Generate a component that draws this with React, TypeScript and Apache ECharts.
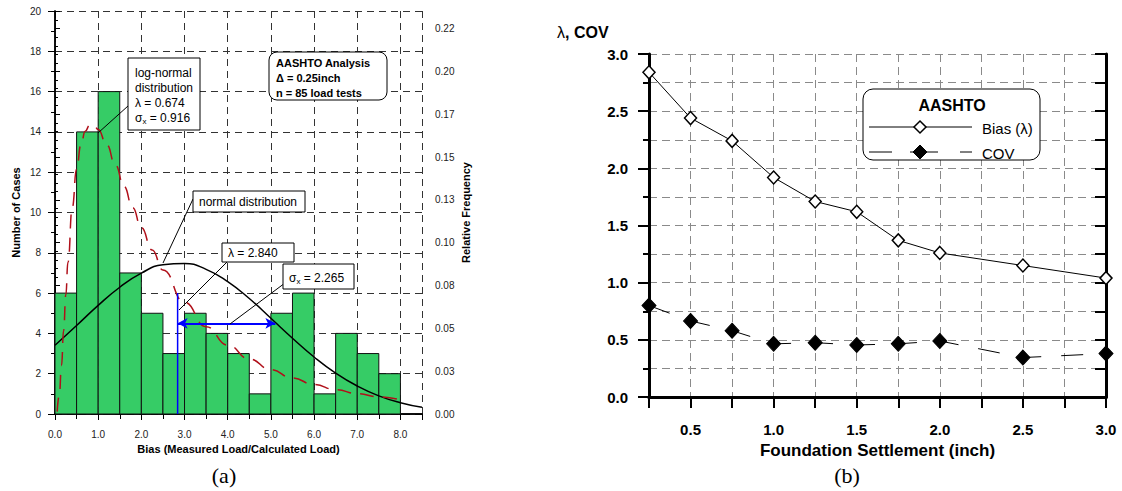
import React, { useEffect, useRef } from 'react';
import * as echarts from 'echarts';

const FONT = '"Liberation Sans", Arial, Helvetica, sans-serif';

// ---- Panel (a): histogram of bias ----
const binStart = [0, 0.5, 1, 1.5, 2, 2.5, 3, 3.5, 4, 4.5, 5, 5.5, 6, 6.5, 7, 7.5];
const binWidth = 0.5;
const caseCounts = [6, 14, 16, 7, 5, 3, 5, 4, 3, 1, 5, 6, 1, 4, 3, 2];
const totalTests = 85;
const maxCount = 20;

const normalX = [0, 0.5, 1, 1.5, 2, 2.5, 3, 3.5, 4, 4.5, 5, 5.5, 6, 6.5, 7, 7.5, 8, 8.5];
const normalY = [3.41, 4.39, 5.39, 6.29, 6.99, 7.41, 7.47, 7.18, 6.57, 5.73, 4.75, 3.76, 2.83, 2.03, 1.39, 0.9, 0.56, 0.33];

const logNormalX = [0.05, 0.1, 0.15, 0.2, 0.25, 0.3, 0.4, 0.5, 0.6, 0.7, 0.8, 0.9, 1.0, 1.2, 1.4, 1.6, 1.8, 2.0, 2.25, 2.5, 3.0, 3.5, 4.0, 4.5, 5.0, 5.5, 6.0, 6.5, 7.0, 7.5, 8.0];
const logNormalY = [0.12, 0.94, 2.4, 4.14, 5.9, 7.53, 10.25, 12.15, 13.36, 14.03, 14.32, 14.33, 14.12, 13.35, 12.35, 11.29, 10.24, 9.25, 8.14, 7.15, 5.54, 4.33, 3.42, 2.73, 2.2, 1.79, 1.46, 1.21, 1.01, 0.85, 0.71];

const meanBias = 2.84;
const sdBias = 2.265;
const meanMarkerTop = 6;
const sdArrowLevel = 4.5;

const freqTickLabels = ['0.00', '0.03', '0.05', '0.08', '0.10', '0.13', '0.15', '0.17', '0.20', '0.22'];

// ---- Panel (b): bias & COV vs settlement ----
const settlement = [0.25, 0.5, 0.75, 1.0, 1.25, 1.5, 1.75, 2.0, 2.5, 3.0];
const biasLambda = [2.84, 2.44, 2.24, 1.92, 1.71, 1.62, 1.37, 1.26, 1.15, 1.04];
const covValues = [0.8, 0.665, 0.58, 0.465, 0.475, 0.455, 0.465, 0.49, 0.345, 0.38];

const GREEN = '#36CC66';
const RED = '#B0101A';
const BLUE = '#0000FF';

function buildOption(): any {
  const histData = binStart.map((s, i) => [s, s + binWidth, caseCounts[i]]);
  const normalData = normalX.map((x, i) => [x, normalY[i]]);
  const logData = logNormalX.map((x, i) => [x, logNormalY[i]]);
  const biasData = settlement.map((x, i) => [x, biasLambda[i]]);
  const covData = settlement.map((x, i) => [x, covValues[i]]);

  const gridDashA = { color: '#333', type: [7, 5], width: 1 };
  const gridDashB = { color: '#8a8a8a', type: [8, 5], width: 1 };
  const axisA = { show: true, lineStyle: { color: '#000', width: 1.5 } };
  const axisB = { show: true, lineStyle: { color: '#000', width: 3 } };

  return {
    animation: false,
    backgroundColor: '#fff',
    textStyle: { fontFamily: FONT },
    grid: [
      { left: 55, top: 11, width: 367, height: 403 },
      { left: 649, top: 54, width: 457, height: 343 },
    ],
    xAxis: [
      {
        type: 'value', gridIndex: 0, position: 'bottom', min: 0, max: 8.5, interval: 1,
        axisLine: axisA,
        axisTick: { show: true, length: 6, lineStyle: { color: '#000', width: 1 } },
        minorTick: { show: true, splitNumber: 2, length: 4, lineStyle: { color: '#000', width: 1 } },
        splitLine: { show: true, lineStyle: gridDashA },
        axisLabel: {
          fontSize: 10, color: '#222', margin: 15, fontFamily: FONT,
          formatter: (v: number) => (v > 8.01 ? '' : v.toFixed(1)),
        },
        name: 'Bias (Measured Load/Calculated Load)', nameLocation: 'middle', nameGap: 27,
        nameTextStyle: { fontSize: 11, fontWeight: 'bold', color: '#000', fontFamily: FONT },
      },
      {
        type: 'value', gridIndex: 0, position: 'top', min: 0, max: 8.5, interval: 0.5,
        axisLine: axisA,
        axisTick: { show: true, inside: true, length: 5, lineStyle: { color: '#000', width: 1 } },
        axisLabel: { show: false }, splitLine: { show: false },
      },
      {
        type: 'value', gridIndex: 1, position: 'bottom', min: 0.25, max: 3, interval: 0.25,
        axisLine: axisB,
        axisTick: { show: true, length: 10, lineStyle: { color: '#000', width: 2 } },
        splitLine: { show: true, lineStyle: gridDashB },
        axisLabel: {
          fontSize: 15, fontWeight: 'bold', color: '#000', margin: 25, fontFamily: FONT,
          formatter: (v: number) => {
            const r = Math.round(v * 2);
            return Math.abs(r / 2 - v) < 1e-6 ? v.toFixed(1) : '';
          },
        },
        name: 'Foundation Settlement (inch)', nameLocation: 'middle', nameGap: 42,
        nameTextStyle: { fontSize: 17, fontWeight: 'bold', color: '#000', fontFamily: FONT },
      },
      {
        type: 'value', gridIndex: 1, position: 'top', min: 0.25, max: 3, interval: 0.25,
        axisLine: axisB,
        axisTick: { show: true, inside: true, length: 11, lineStyle: { color: '#000', width: 2 } },
        axisLabel: { show: false }, splitLine: { show: false },
      },
    ],
    yAxis: [
      {
        type: 'value', gridIndex: 0, position: 'left', min: 0, max: maxCount, interval: 2,
        axisLine: axisA,
        axisTick: { show: true, length: 7, lineStyle: { color: '#000', width: 1 } },
        minorTick: { show: true, splitNumber: 2, length: 4, lineStyle: { color: '#000', width: 1 } },
        splitLine: { show: true, lineStyle: gridDashA },
        axisLabel: { fontSize: 10, color: '#222', margin: 14, fontFamily: FONT },
        name: 'Number of Cases', nameLocation: 'middle', nameGap: 34,
        nameTextStyle: { fontSize: 11, fontWeight: 'bold', color: '#000', fontFamily: FONT },
      },
      {
        type: 'value', gridIndex: 0, position: 'right', min: 0, max: maxCount / totalTests, interval: 0.025,
        axisLine: axisA,
        axisTick: { show: true, length: 5, lineStyle: { color: '#000', width: 1 } },
        minorTick: { show: true, splitNumber: 5, length: 3, lineStyle: { color: '#000', width: 1 } },
        splitLine: { show: false },
        axisLabel: {
          fontSize: 10, color: '#222', margin: 13, fontFamily: FONT,
          formatter: (v: number) => {
            const i = Math.round(v / 0.025);
            return Math.abs(i * 0.025 - v) < 1e-6 && freqTickLabels[i] ? freqTickLabels[i] : '';
          },
        },
        name: 'Relative Frequency', nameLocation: 'middle', nameGap: 38,
        nameTextStyle: { fontSize: 11, fontWeight: 'bold', color: '#000', fontFamily: FONT },
      },
      {
        type: 'value', gridIndex: 1, position: 'left', min: 0, max: 3, interval: 0.5,
        axisLine: axisB,
        axisTick: { show: true, length: 11, lineStyle: { color: '#000', width: 2 } },
        minorTick: { show: true, splitNumber: 2, length: 6, lineStyle: { color: '#000', width: 2 } },
        splitLine: { show: true, lineStyle: gridDashB },
        minorSplitLine: { show: true, lineStyle: gridDashB },
        axisLabel: {
          fontSize: 15, fontWeight: 'bold', color: '#000', margin: 21, fontFamily: FONT,
          formatter: (v: number) => v.toFixed(1),
        },
      },
      {
        type: 'value', gridIndex: 1, position: 'right', min: 0, max: 3, interval: 0.25,
        axisLine: axisB,
        axisTick: { show: true, inside: true, length: 11, lineStyle: { color: '#000', width: 2 } },
        axisLabel: { show: false }, splitLine: { show: false },
      },
    ],
    series: [
      {
        type: 'custom', xAxisIndex: 0, yAxisIndex: 0, data: histData,
        encode: { x: [0, 1], y: 2 },
        renderItem: (params: any, api: any) => {
          const p0 = api.coord([api.value(0), api.value(2)]);
          const p1 = api.coord([api.value(1), 0]);
          return {
            type: 'rect',
            shape: { x: p0[0], y: p0[1], width: p1[0] - p0[0], height: p1[1] - p0[1] },
            style: { fill: GREEN, stroke: '#111', lineWidth: 1 },
          };
        },
        z: 2,
      },
      {
        type: 'line', xAxisIndex: 0, yAxisIndex: 0, data: normalData, smooth: true,
        symbol: 'none', lineStyle: { color: '#000', width: 1.5 }, z: 4, clip: true,
      },
      {
        type: 'line', xAxisIndex: 0, yAxisIndex: 0, data: logData, smooth: true, smoothMonotone: 'x',
        symbol: 'none', lineStyle: { color: RED, width: 1.5, type: [14, 9] }, z: 4,
      },
      {
        type: 'line', xAxisIndex: 0, yAxisIndex: 0,
        data: [[meanBias, 0], [meanBias, meanMarkerTop]],
        symbol: 'none', lineStyle: { color: BLUE, width: 1.5 }, z: 5,
        markLine: {
          silent: true, symbol: ['arrow', 'arrow'], symbolSize: [8, 10],
          lineStyle: { color: BLUE, width: 2, type: 'solid' },
          label: { show: false },
          data: [[{ coord: [meanBias, sdArrowLevel] }, { coord: [meanBias + sdBias, sdArrowLevel] }]],
        },
      },
      {
        type: 'line', xAxisIndex: 2, yAxisIndex: 2, data: biasData, clip: false,
        symbol: 'diamond', symbolSize: [12, 13],
        itemStyle: { color: '#fff', borderColor: '#000', borderWidth: 1.5 },
        lineStyle: { color: '#000', width: 1 }, z: 5,
      },
      {
        type: 'line', xAxisIndex: 2, yAxisIndex: 2, data: covData, clip: false,
        symbol: 'diamond', symbolSize: [14, 15],
        itemStyle: { color: '#000', borderColor: '#000', borderWidth: 1 },
        lineStyle: { color: '#000', width: 1, type: [22, 20] }, z: 5,
      },
    ],
    graphic: [
      // log-normal box
      { type: 'line', shape: { x1: 128, y1: 106, x2: 98, y2: 133 }, style: { stroke: '#000', lineWidth: 1 }, z: 10 },
      { type: 'rect', shape: { x: 128, y: 58, width: 72, height: 72 }, style: { fill: '#fff', stroke: '#000', lineWidth: 1 }, z: 10 },
      {
        type: 'text', x: 135, y: 65, z: 11,
        style: {
          text: '{a|log-normal}\n{a|distribution}\n{a|λ = 0.674}\n{a|σ}{s|x}{a| = 0.916}',
          rich: {
            a: { fontSize: 12, fontFamily: FONT, fill: '#000', lineHeight: 15 },
            s: { fontSize: 8, fontFamily: FONT, fill: '#000', lineHeight: 15, verticalAlign: 'bottom' },
          },
        },
      },
      // normal distribution box
      { type: 'line', shape: { x1: 193, y1: 199, x2: 163, y2: 263 }, style: { stroke: '#000', lineWidth: 1 }, z: 10 },
      { type: 'rect', shape: { x: 193, y: 191, width: 112, height: 21 }, style: { fill: '#fff', stroke: '#000', lineWidth: 1 }, z: 10 },
      { type: 'text', x: 199, y: 202, z: 11, style: { text: 'normal distribution', fontSize: 12, fontFamily: FONT, fill: '#000', verticalAlign: 'middle' } },
      // lambda box
      { type: 'line', shape: { x1: 227, y1: 262, x2: 179, y2: 310 }, style: { stroke: '#000', lineWidth: 1 }, z: 10 },
      { type: 'rect', shape: { x: 222, y: 243, width: 72, height: 19 }, style: { fill: '#fff', stroke: '#000', lineWidth: 1 }, z: 10 },
      { type: 'text', x: 228, y: 253, z: 11, style: { text: 'λ = 2.840', fontSize: 12, fontFamily: FONT, fill: '#000', verticalAlign: 'middle' } },
      // sigma box
      { type: 'line', shape: { x1: 285, y1: 283, x2: 230, y2: 324 }, style: { stroke: '#000', lineWidth: 1 }, z: 10 },
      { type: 'rect', shape: { x: 283, y: 264, width: 71, height: 25 }, style: { fill: '#fff', stroke: '#000', lineWidth: 1 }, z: 10 },
      {
        type: 'text', x: 289, y: 270, z: 11,
        style: {
          text: '{a|σ}{s|x}{a| = 2.265}',
          rich: {
            a: { fontSize: 12, fontFamily: FONT, fill: '#000', lineHeight: 15 },
            s: { fontSize: 8, fontFamily: FONT, fill: '#000', lineHeight: 15, verticalAlign: 'bottom' },
          },
        },
      },
      // AASHTO analysis box
      { type: 'rect', shape: { x: 269, y: 52, width: 118, height: 48, r: 8 }, style: { fill: '#fff', stroke: '#000', lineWidth: 1 }, z: 10 },
      {
        type: 'text', x: 276, y: 55, z: 11,
        style: {
          text: 'AASHTO Analysis\nΔ = 0.25inch\nn = 85 load tests',
          fontSize: 11, fontWeight: 'bold', fontFamily: FONT, fill: '#000', lineHeight: 15,
        },
      },
      // panel labels
      { type: 'text', x: 224, y: 475, z: 11, style: { text: '(a)', fontSize: 22, fontFamily: '"Liberation Serif", "Times New Roman", serif', fill: '#000', align: 'center', verticalAlign: 'middle' } },
      { type: 'text', x: 847, y: 475, z: 11, style: { text: '(b)', fontSize: 22, fontFamily: '"Liberation Serif", "Times New Roman", serif', fill: '#000', align: 'center', verticalAlign: 'middle' } },
      // y title panel b
      {
        type: 'text', x: 557, y: 32, z: 11,
        style: {
          text: '{l|λ}{b|, COV}',
          verticalAlign: 'middle',
          rich: {
            l: { fontSize: 16, fontFamily: FONT, fill: '#000' },
            b: { fontSize: 16, fontWeight: 'bold', fontFamily: FONT, fill: '#000' },
          },
        },
      },
      // legend panel b
      { type: 'rect', shape: { x: 863, y: 89, width: 177, height: 71, r: 10 }, style: { fill: '#fff', stroke: '#000', lineWidth: 1 }, z: 10 },
      { type: 'text', x: 952, y: 105, z: 11, style: { text: 'AASHTO', fontSize: 16, fontWeight: 'bold', fontFamily: FONT, fill: '#000', align: 'center', verticalAlign: 'middle' } },
      { type: 'line', shape: { x1: 869, y1: 127, x2: 972, y2: 127 }, style: { stroke: '#000', lineWidth: 1 }, z: 11 },
      { type: 'polygon', shape: { points: [[920, 121], [926, 127], [920, 133], [914, 127]] }, style: { fill: '#fff', stroke: '#000', lineWidth: 1.5 }, z: 12 },
      { type: 'text', x: 982, y: 128, z: 11, style: { text: 'Bias (λ)', fontSize: 15, fontFamily: FONT, fill: '#000', verticalAlign: 'middle' } },
      { type: 'line', shape: { x1: 869, y1: 152, x2: 892, y2: 152 }, style: { stroke: '#000', lineWidth: 1 }, z: 11 },
      { type: 'line', shape: { x1: 910, y1: 152, x2: 938, y2: 152 }, style: { stroke: '#000', lineWidth: 1 }, z: 11 },
      { type: 'line', shape: { x1: 960, y1: 152, x2: 972, y2: 152 }, style: { stroke: '#000', lineWidth: 1 }, z: 11 },
      { type: 'polygon', shape: { points: [[920, 145], [927, 152], [920, 159], [913, 152]] }, style: { fill: '#000', stroke: '#000', lineWidth: 1 }, z: 12 },
      { type: 'text', x: 982, y: 153, z: 11, style: { text: 'COV', fontSize: 15, fontFamily: FONT, fill: '#000', verticalAlign: 'middle' } },
    ],
  };
}

export default function App() {
  const ref = useRef<HTMLDivElement>(null);
  useEffect(() => {
    if (!ref.current) return;
    const chart = echarts.init(ref.current, null, { renderer: 'svg' });
    chart.setOption(buildOption());
    return () => chart.dispose();
  }, []);
  return (
    <div
      ref={ref}
      style={{ position: 'fixed', left: 0, top: 0, width: 1122, height: 491, background: '#fff' }}
    />
  );
}
